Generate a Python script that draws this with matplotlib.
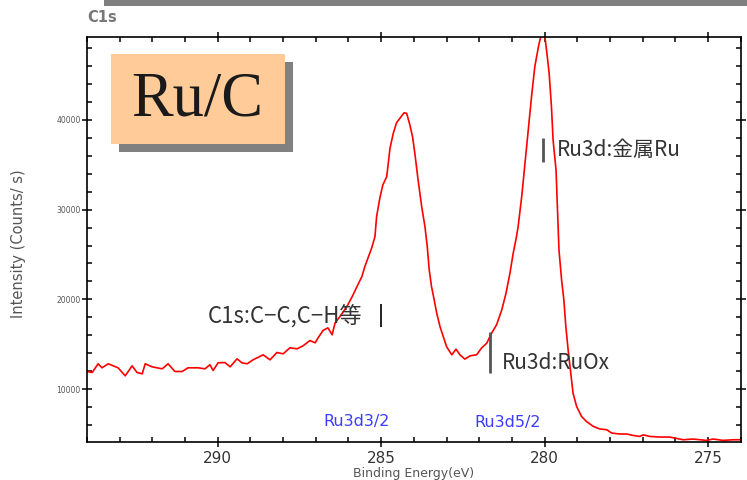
import matplotlib

matplotlib.use('Agg')
import matplotlib.pyplot as plt
from matplotlib.patches import Rectangle
from matplotlib.ticker import MultipleLocator, FixedLocator

# C1s / Ru3d spectrum
binding_energy = [
    294.00, 293.84, 293.66, 293.54, 293.35, 293.20, 293.05, 292.83, 292.62, 292.47,
    292.31, 292.22, 292.01, 291.70, 291.52, 291.31, 291.09, 290.91, 290.60, 290.39,
    290.24, 290.14, 289.99, 289.78, 289.62, 289.41, 289.26, 289.10, 288.92, 288.61,
    288.40, 288.19, 288.00, 287.79, 287.57, 287.39, 287.18, 287.02, 286.93, 286.78,
    286.63, 286.50, 286.41, 286.26, 286.05, 285.89, 285.74, 285.59, 285.50, 285.29,
    285.19, 285.14, 285.04, 284.95, 284.83, 284.73, 284.63, 284.53, 284.43, 284.30,
    284.22, 284.12, 284.04, 283.97, 283.87, 283.76, 283.66, 283.59, 283.53, 283.46,
    283.39, 283.30, 283.20, 283.10, 283.00, 282.84, 282.71, 282.59, 282.44, 282.28,
    282.08, 281.93, 281.77, 281.62, 281.47, 281.31, 281.18, 281.06, 280.96, 280.86,
    280.81, 280.70, 280.60, 280.50, 280.40, 280.30, 280.19, 280.12, 280.05, 279.99,
    279.94, 279.86, 279.79, 279.74, 279.65, 279.61, 279.56, 279.48, 279.41, 279.35,
    279.28, 279.20, 279.13, 279.02, 278.87, 278.72, 278.51, 278.31, 278.10, 277.95,
    277.70, 277.49, 277.29, 277.09, 276.98, 276.78, 276.47, 276.17, 275.76, 275.46,
    275.05, 274.84, 274.54, 274.23, 274.03,
]
counts = [
    11960, 11850, 12820, 12370, 12820, 12590, 12370, 11480, 12590, 11850,
    11700, 12820, 12480, 12260, 12820, 11960, 11960, 12370, 12370, 12260,
    12710, 12070, 12930, 12960, 12480, 13370, 12930, 12820, 13260, 13820,
    13260, 14080, 13930, 14600, 14490, 14820, 15410, 15160, 15710, 16530,
    16830, 16050, 17380, 18090, 19200, 20280, 21430, 22540, 23650, 25740,
    26990, 29220, 31300, 32750, 33680, 36840, 38510, 39690, 40180, 40800,
    40740, 39430, 38130, 36280, 33310, 30330, 28110, 25880, 23300, 21430,
    20170, 18460, 16970, 15860, 14740, 13820, 14450, 13820, 13340, 13710,
    13820, 14570, 15120, 16240, 17160, 18830, 20690, 22920, 25150, 26990,
    28110, 31450, 35170, 38880, 42580, 45920, 48150, 49270, 49700, 49270,
    47780, 45190, 41470, 37760, 34420, 30520, 25510, 22170, 19940, 16970,
    14380, 11780, 9550, 8060, 6950, 6390, 5840, 5550, 5470, 5100,
    4990, 4990, 4830, 4720, 4900, 4720, 4650, 4650, 4350, 4430,
    4280, 4430, 4280, 4350, 4350,
]

x_ticks = [290, 285, 280, 275]
y_ticks = [10000, 20000, 30000, 40000]

# peak markers: position (eV), bar bottom, bar top, colour
marker_pos = [285.0, 281.67, 280.05]
marker_lo = [16940, 11820, 35310]
marker_hi = [19500, 16380, 37985]
marker_colors = ['#111111', '#555555', '#555555']

# peak labels
label_texts = ['C1s:C\u2212C,C\u2212H等', 'Ru3d:RuOx', 'Ru3d:金属Ru']
label_x = [285.56, 281.31, 279.62]
label_y = [18050, 12930, 36650]
label_ha = ['right', 'left', 'left']
label_size = [16, 15, 15]

orbital_texts = ['Ru3d3/2', 'Ru3d5/2']
orbital_x = [285.74, 281.14]
orbital_y = [6360, 6250]

cjk = ['Noto Sans CJK JP', 'DejaVu Sans']

fig = plt.figure(figsize=(7.47, 4.80), dpi=100)
ax = fig.add_axes([87 / 747, 38 / 480, 653.7 / 747, 405 / 480])

ax.plot(binding_energy, counts, color='#ff0000', lw=1.2)
ax.set_xlim(294, 274)
ax.set_ylim(4100, 49250)

ax.xaxis.set_major_locator(FixedLocator(x_ticks))
ax.xaxis.set_minor_locator(MultipleLocator(1))
ax.yaxis.set_major_locator(FixedLocator(y_ticks))
ax.yaxis.set_minor_locator(MultipleLocator(2000))
ax.tick_params(which='both', top=True, right=True, width=1.1, color='black')
ax.tick_params(which='major', direction='inout', length=7)
ax.tick_params(which='minor', direction='in', length=3.5)
ax.tick_params(axis='x', which='major', labelsize=11, labelcolor='#333333', pad=3)
ax.tick_params(axis='y', which='major', labelsize=5.5, labelcolor='#555555', pad=1)
for s in ax.spines.values():
    s.set_linewidth(1.2)

ax.set_xlabel('Binding Energy(eV)', fontsize=9, color='#555555', labelpad=1)
ax.set_ylabel('Intensity (Counts/ s)', fontsize=10.5, color='#555555')
ax.yaxis.set_label_coords(-(87 - 26) / 653.7, 0.49)
fig.text(87 / 747, 1 - 18 / 480, 'C1s', fontsize=10.5, fontweight='bold',
         color='#777777', ha='left', va='center')

ax.vlines(marker_pos[0], marker_lo[0], marker_hi[0], color=marker_colors[0], lw=1.3)
for i in range(1, len(marker_pos)):
    ax.vlines(marker_pos[i], marker_lo[i], marker_hi[i], color=marker_colors[i], lw=2)

for t, x, y, ha, fs in zip(label_texts, label_x, label_y, label_ha, label_size):
    ax.text(x, y, t, ha=ha, va='center', fontsize=fs, color='#333333', family=cjk)

for t, x, y in zip(orbital_texts, orbital_x, orbital_y):
    ax.text(x, y, t, ha='center', va='center', fontsize=11.5, color='#3c3cff')

# grey bar along the top edge
fig.patches.append(Rectangle((104 / 747, 1 - 6 / 480), 1, 6 / 480, transform=fig.transFigure,
                             facecolor='#808080', edgecolor='none'))

# Ru/C tag with shadow
fig.patches.append(Rectangle((119 / 747, 1 - 152 / 480), 174 / 747, 90 / 480,
                             transform=fig.transFigure, facecolor='#808080', edgecolor='none'))
fig.patches.append(Rectangle((111 / 747, 1 - 144 / 480), 174 / 747, 90 / 480,
                             transform=fig.transFigure, facecolor='#ffcc99', edgecolor='none'))
fig.text(197 / 747, 1 - 101 / 480, 'Ru/C', fontsize=45, family='Liberation Serif',
         color='#1a1a1a', ha='center', va='center')

fig.savefig('out.png', dpi=100)
